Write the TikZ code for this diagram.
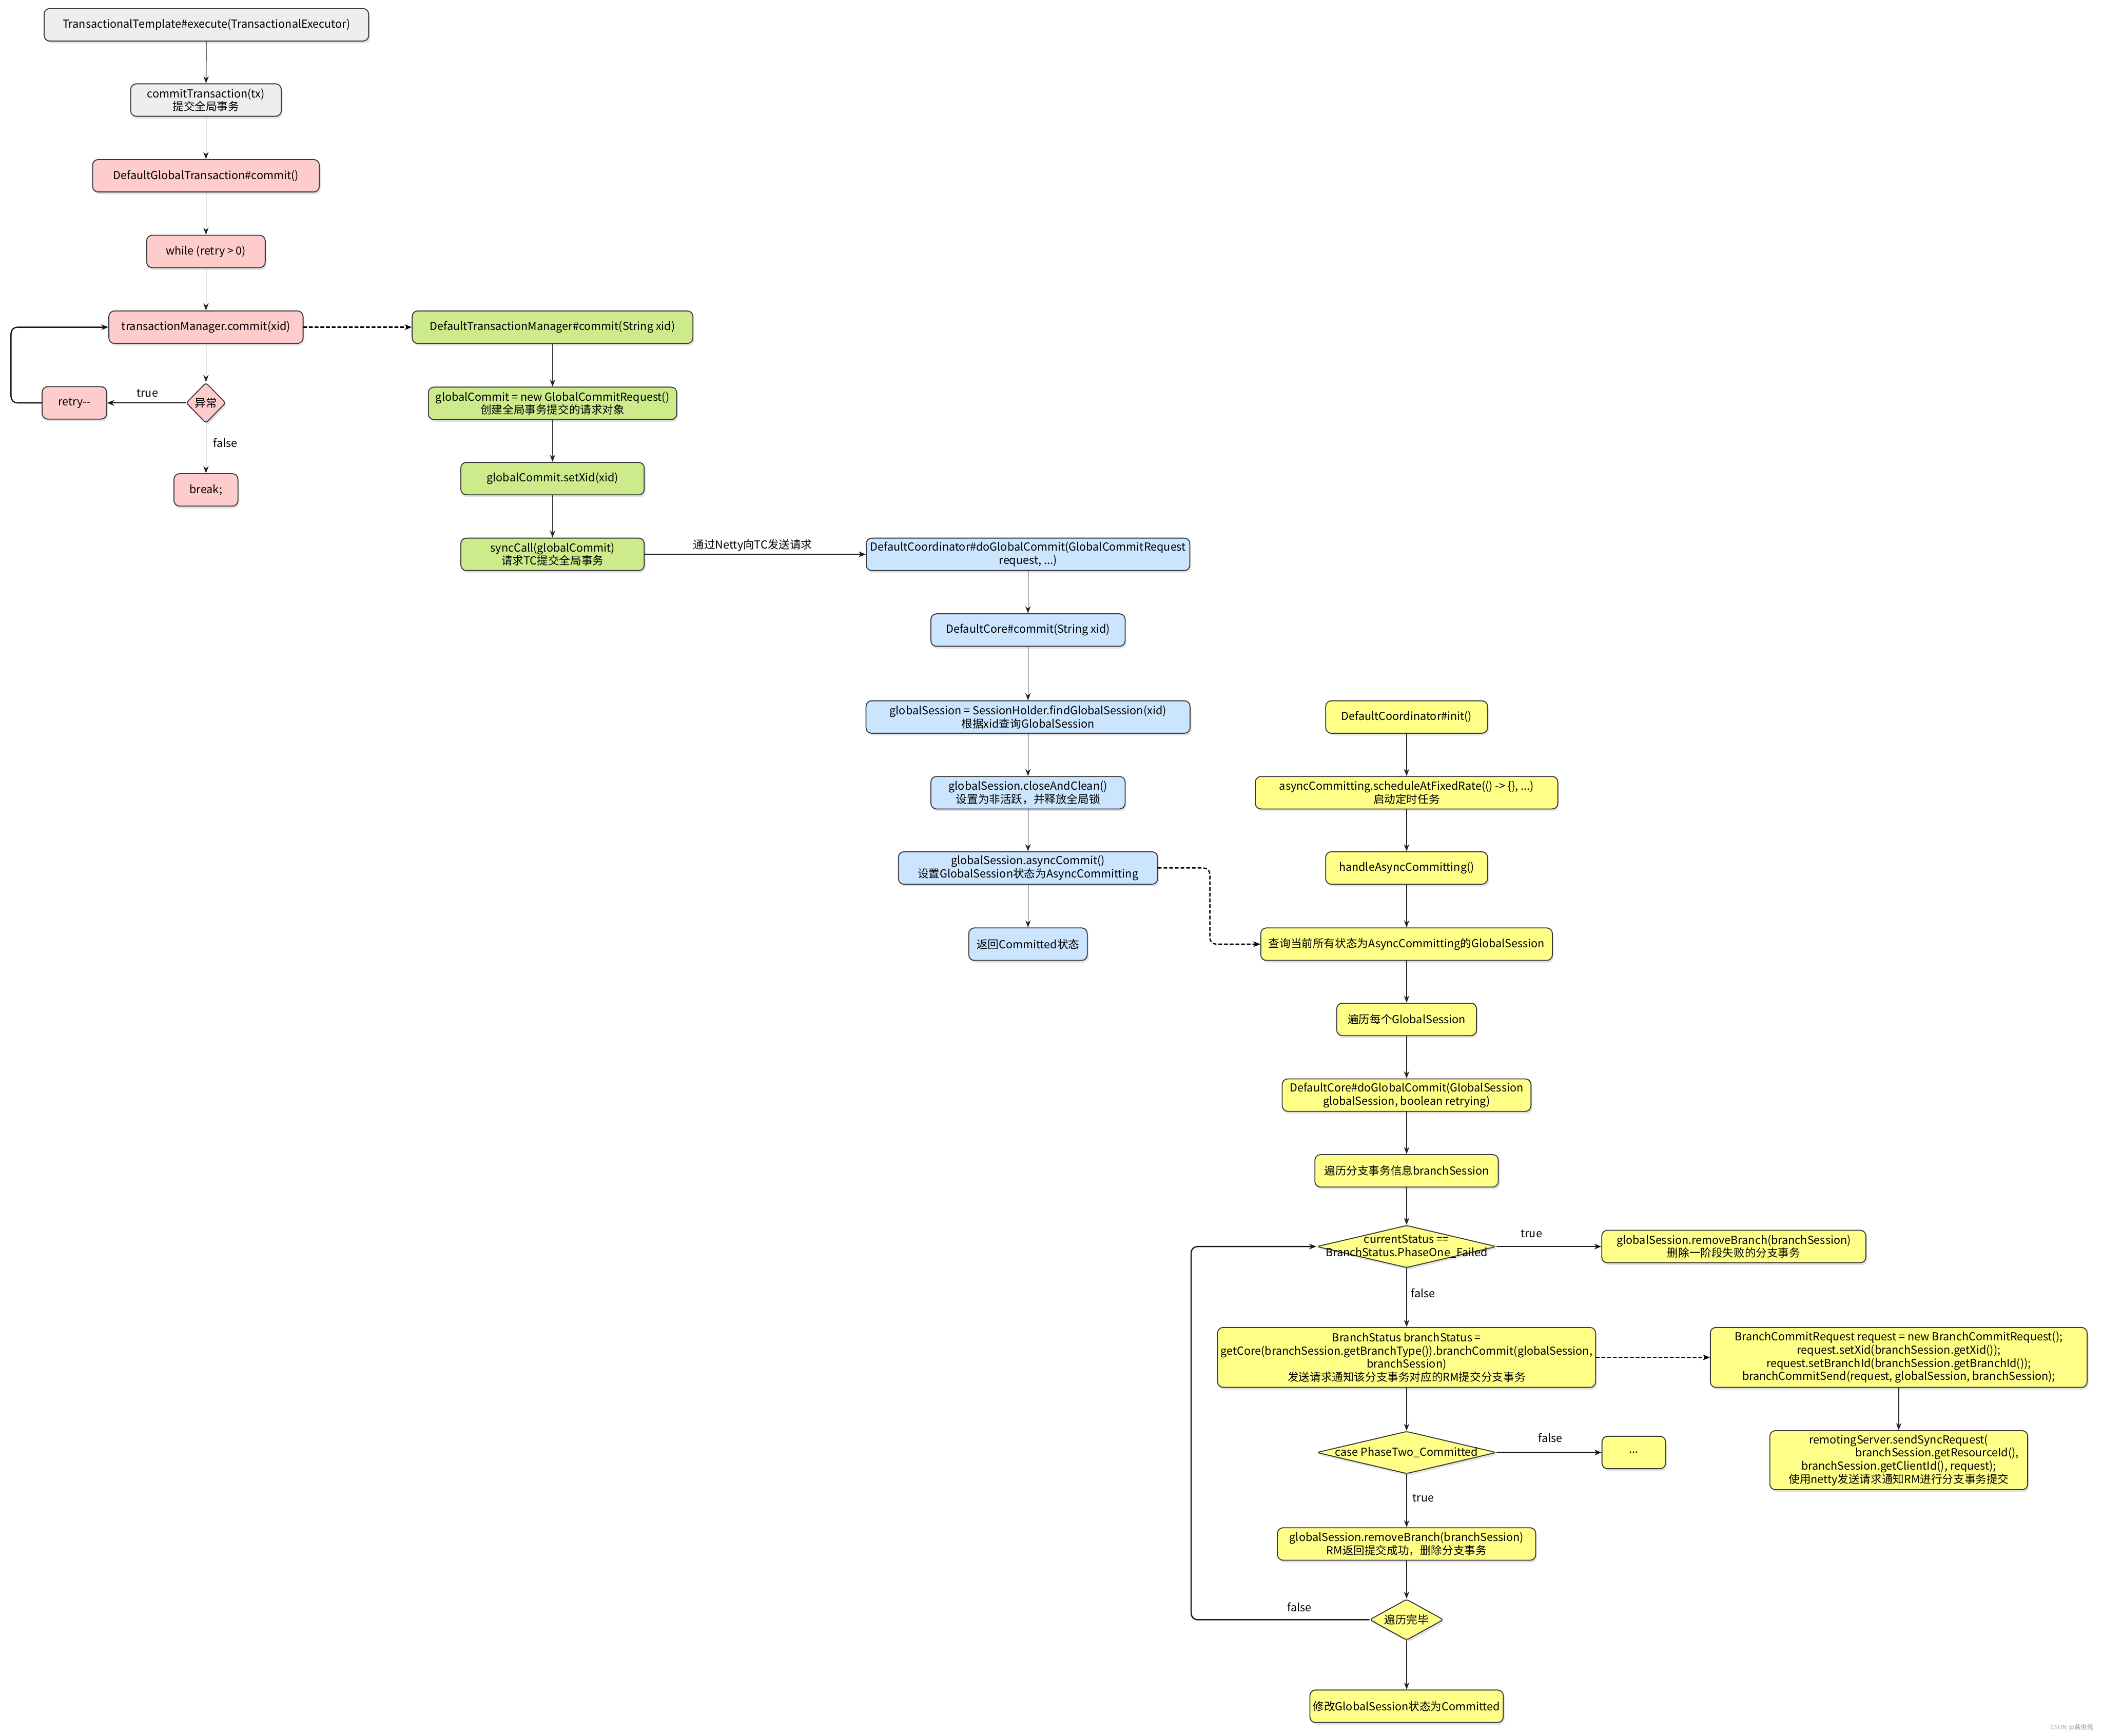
\documentclass[tikz,border=0pt]{standalone}
\usepackage{fontspec}
\setmainfont{Noto Sans CJK SC}
\usetikzlibrary{shapes.geometric,arrows.meta,shadows}

\definecolor{boxgray}{HTML}{EEEEEE}
\definecolor{boxpink}{HTML}{FFCCCC}
\definecolor{boxgreen}{HTML}{CDEB8B}
\definecolor{boxblue}{HTML}{CCE5FF}
\definecolor{boxyellow}{HTML}{FFFF88}
\definecolor{edgedark}{HTML}{36393D}

\begin{document}
\begin{tikzpicture}[x=1cm,y=1cm,line cap=round,line join=round,
    box/.style={rectangle,rounded corners=3.5pt,draw=edgedark,line width=0.6pt,
        minimum height=0.72cm,inner sep=2pt,align=center,font=\fontsize{7}{8.3}\selectfont,
        drop shadow={shadow xshift=0.03cm,shadow yshift=-0.05cm,opacity=0.22}},
    dia/.style={diamond,rounded corners=1.5pt,draw=edgedark,line width=0.6pt,inner sep=0pt,
        drop shadow={shadow xshift=0.03cm,shadow yshift=-0.05cm,opacity=0.22}},
    flow/.style={draw=black!85,line width=0.45pt,-{Stealth[length=4.5pt,width=3.4pt]}},
    flowthick/.style={draw=black!90,line width=0.8pt,-{Stealth[length=4.5pt,width=3.6pt]}},
    link/.style={line width=0.8pt,dash pattern=on 2pt off 1.6pt,-{Stealth[length=4.5pt,width=3.6pt]}},
    tag/.style={font=\fontsize{7}{8.3}\selectfont}]
    \useasboundingbox (0,0) rectangle (46.64,-38.52);

    % 客户端：TM 发起提交
    \node[box,fill=boxgray,minimum width=7.20cm] (tte) at (4.58,-0.55) {TransactionalTemplate\#execute(TransactionalExecutor)};
    \node[box,fill=boxgray,minimum width=3.34cm] (ctx) at (4.57,-2.22) {commitTransaction(tx)\\提交全局事务};
    \node[box,fill=boxpink,minimum width=5.03cm] (dgt) at (4.57,-3.90) {DefaultGlobalTransaction\#commit()};
    \node[box,fill=boxpink,minimum width=2.63cm] (whl) at (4.57,-5.58) {while (retry > 0)};
    \node[box,fill=boxpink,minimum width=4.31cm] (tmc) at (4.57,-7.26) {transactionManager.commit(xid)};
    \node[dia,fill=boxpink,minimum width=0.88cm,minimum height=0.90cm,
        label={[tag]center:异常}] (exc) at (4.57,-8.94) {};
    \node[box,fill=boxpink,minimum width=1.43cm] (rty) at (1.65,-8.94) {retry-{}-};
    \node[box,fill=boxpink,minimum width=1.42cm] (brk) at (4.57,-10.87) {break;};

    \draw[flow] (tte) -- (ctx);
    \draw[flow] (ctx) -- (dgt);
    \draw[flow] (dgt) -- (whl);
    \draw[flow] (whl) -- (tmc);
    \draw[flow] (tmc) -- (exc);
    \draw[flowthick] (exc.west) -- (rty.east);
    \draw[flow] (exc) -- (brk);
    \draw[flowthick,rounded corners=4pt] (rty.west) -- ++(-0.68,0) |- (tmc.west);
    \node[tag] (lt1) at (3.27,-8.72) {true};
    \node[tag] (lf1) at (5.00,-9.82) {false};

    % DefaultTransactionManager
    \node[box,fill=boxgreen,minimum width=6.23cm] (dtm) at (12.26,-7.26) {DefaultTransactionManager\#commit(String xid)};
    \node[box,fill=boxgreen,minimum width=5.51cm] (gcr) at (12.26,-8.95) {globalCommit = new GlobalCommitRequest()\\创建全局事务提交的请求对象};
    \node[box,fill=boxgreen,minimum width=4.07cm] (sxd) at (12.26,-10.62) {globalCommit.setXid(xid)};
    \node[box,fill=boxgreen,minimum width=4.07cm] (syc) at (12.26,-12.30) {syncCall(globalCommit)\\请求TC提交全局事务};

    \draw[link] (tmc.east) -- (dtm.west);
    \draw[flow] (dtm) -- (gcr);
    \draw[flow] (gcr) -- (sxd);
    \draw[flow] (sxd) -- (syc);

    % TC 端：DefaultCoordinator / DefaultCore
    \node[box,fill=boxblue,minimum width=7.18cm] (dgc) at (22.81,-12.30) {DefaultCoordinator\#doGlobalCommit(GlobalCommitRequest\\request, ...)};
    \node[box,fill=boxblue,minimum width=4.31cm] (dcc) at (22.81,-13.98) {DefaultCore\#commit(String xid)};
    \node[box,fill=boxblue,minimum width=7.19cm] (fgs) at (22.81,-15.91) {globalSession = SessionHolder.findGlobalSession(xid)\\根据xid查询GlobalSession};
    \node[box,fill=boxblue,minimum width=4.31cm] (cac) at (22.81,-17.59) {globalSession.closeAndClean()\\设置为非活跃，并释放全局锁};
    \node[box,fill=boxblue,minimum width=5.75cm] (acm) at (22.81,-19.26) {globalSession.asyncCommit()\\设置GlobalSession状态为AsyncCommitting};
    \node[box,fill=boxblue,minimum width=2.63cm] (ret) at (22.81,-20.95) {返回Committed状态};

    \draw[flowthick] (syc.east) -- (dgc.west);
    \node[tag] (lnt) at (16.70,-12.10) {通过Netty向TC发送请求};
    \draw[flow] (dgc) -- (dcc);
    \draw[flow] (dcc) -- (fgs);
    \draw[flow] (fgs) -- (cac);
    \draw[flow] (cac) -- (acm);
    \draw[flow] (acm) -- (ret);

    % 定时任务：异步提交
    \node[box,fill=boxyellow,minimum width=3.59cm] (ini) at (31.21,-15.91) {DefaultCoordinator\#init()};
    \node[box,fill=boxyellow,minimum width=6.71cm] (sch) at (31.21,-17.59) {asyncCommitting.scheduleAtFixedRate(() -> \{\}, ...)\\启动定时任务};
    \node[box,fill=boxyellow,minimum width=3.59cm] (hac) at (31.21,-19.26) {handleAsyncCommitting()};
    \node[box,fill=boxyellow,minimum width=6.47cm] (qry) at (31.21,-20.95) {查询当前所有状态为AsyncCommitting的GlobalSession};
    \node[box,fill=boxyellow,minimum width=3.10cm] (egs) at (31.21,-22.62) {遍历每个GlobalSession};
    \node[box,fill=boxyellow,minimum width=5.52cm] (dgm) at (31.21,-24.30) {DefaultCore\#doGlobalCommit(GlobalSession\\globalSession, boolean retrying)};
    \node[box,fill=boxyellow,minimum width=4.07cm] (ebs) at (31.21,-25.98) {遍历分支事务信息branchSession};

    \draw[link,rounded corners=4pt] (acm.east) -- ++(1.15,0) |- (qry.west);
    \draw[flow] (ini) -- (sch);
    \draw[flow] (sch) -- (hac);
    \draw[flow] (hac) -- (qry);
    \draw[flow] (qry) -- (egs);
    \draw[flow] (egs) -- (dgm);
    \draw[flow] (dgm) -- (ebs);

    % 分支事务提交
    \node[dia,fill=boxyellow,minimum width=3.99cm,minimum height=0.94cm,
        label={[tag,align=center]center:currentStatus ==\\BranchStatus.PhaseOne\_Failed}] (cst) at (31.21,-27.66) {};
    \node[box,fill=boxyellow,minimum width=5.86cm] (rb1) at (38.47,-27.66) {globalSession.removeBranch(branchSession)\\删除一阶段失败的分支事务};
    \node[box,fill=boxyellow,minimum width=8.38cm,minimum height=1.33cm] (bst) at (31.21,-30.12)
        {BranchStatus branchStatus =\\getCore(branchSession.getBranchType()).branchCommit(globalSession,\\branchSession)\\发送请求通知该分支事务对应的RM提交分支事务};
    \node[box,fill=boxyellow,minimum width=8.36cm,minimum height=1.33cm] (bcr) at (42.13,-30.12)
        {BranchCommitRequest request = new BranchCommitRequest();\\request.setXid(branchSession.getXid());\\request.setBranchId(branchSession.getBranchId());\\branchCommitSend(request, globalSession, branchSession);};
    \node[box,fill=boxyellow,minimum width=5.72cm,minimum height=1.31cm] (rss) at (42.13,-32.40)
        {remotingServer.sendSyncRequest(\\\hspace*{1.7cm}branchSession.getResourceId(),\\branchSession.getClientId(), request);\\使用netty发送请求通知RM进行分支事务提交};
    \node[dia,fill=boxyellow,minimum width=3.99cm,minimum height=0.94cm,
        label={[tag]center:case PhaseTwo\_Committed}] (cpc) at (31.21,-32.23) {};
    \node[box,fill=boxyellow,minimum width=1.41cm] (dts) at (36.25,-32.23) {...};
    \node[box,fill=boxyellow,minimum width=5.73cm] (rb2) at (31.21,-34.26) {globalSession.removeBranch(branchSession)\\RM返回提交成功，删除分支事务};
    \node[dia,fill=boxyellow,minimum width=1.64cm,minimum height=0.91cm,
        label={[tag]center:遍历完毕}] (don) at (31.21,-35.94) {};
    \node[box,fill=boxyellow,minimum width=4.27cm] (fin) at (31.21,-37.86) {修改GlobalSession状态为Committed};

    \draw[flow] (ebs) -- (cst);
    \draw[flowthick] (cst.east) -- (rb1.west);
    \draw[flow] (cst.south) -- (bst.north);
    \draw[link] (bst.east) -- (bcr.west);
    \draw[flow] (bcr) -- (rss);
    \draw[flow] (bst.south) -- (cpc.north);
    \draw[flowthick] (cpc.east) -- (dts.west);
    \draw[flow] (cpc.south) -- (rb2.north);
    \draw[flow] (rb2.south) -- (don.north);
    \draw[flow] (don.south) -- (fin.north);
    \draw[flowthick,rounded corners=4pt] (don.west) -- ++(-3.95,0) |- (cst.west);
    \node[tag] (lt2) at (33.98,-27.37) {true};
    \node[tag] (lf2) at (31.58,-28.69) {false};
    \node[tag] (lf3) at (34.40,-31.90) {false};
    \node[tag] (lt3) at (31.58,-33.24) {true};
    \node[tag] (lf4) at (28.83,-35.66) {false};

    % 水印
    \node[font=\fontsize{4}{5}\selectfont,text=black!35] (wmk) at (45.97,-38.33) {CSDN @黄俊懿};
\end{tikzpicture}
\end{document}
